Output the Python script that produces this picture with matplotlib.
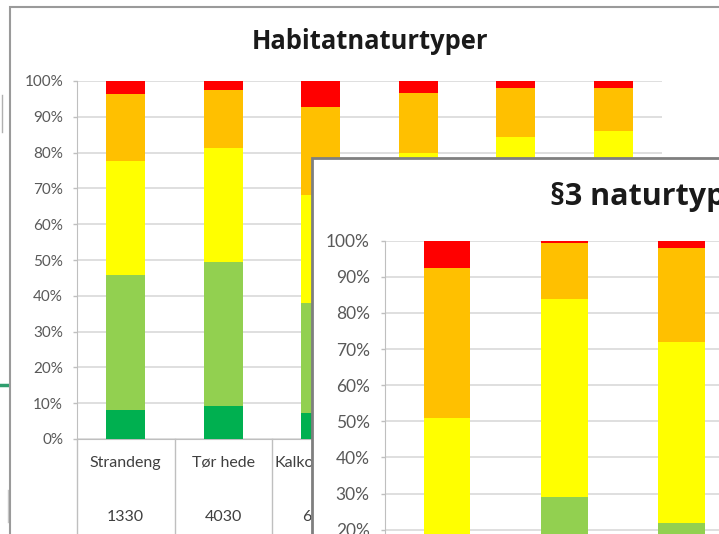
import numpy as np
import matplotlib
matplotlib.use('Agg')
import matplotlib.pyplot as plt
from matplotlib.patches import Rectangle
from matplotlib.lines import Line2D

plt.rcParams['font.family'] = ['Lato', 'DejaVu Sans']

# farver (Excel standard)
C_DKGREEN = '#00B050'
C_LTGREEN = '#92D050'
C_YELLOW = '#FFFF00'
C_ORANGE = '#FFC000'
C_RED = '#FF0000'
SEG_COLORS = [C_DKGREEN, C_LTGREEN, C_YELLOW, C_ORANGE, C_RED]

# Habitatnaturtyper (bagerste diagram), andele i %
hab_names = ['Strandeng', 'Tør hede', 'Kalkoverdrev', 'Surt overdrev', 'Hængesæk', 'Rigkær']
hab_codes = ['1330', '4030', '6210', '6230', '7140', '7230']
hab_dkgreen = [8.1, 9.3, 7.3, 8.0, 10.0, 8.0]
hab_ltgreen = [37.7, 40.2, 30.7, 37.0, 40.0, 42.0]
hab_yellow = [31.8, 31.9, 30.2, 35.0, 34.3, 36.0]
hab_orange = [18.8, 16.1, 24.6, 16.7, 13.7, 12.0]
hab_red = [3.6, 2.5, 7.2, 3.3, 2.0, 2.0]

# §3 naturtyper (forreste diagram), andele i %
p3_names = ['Strandeng', 'Hede', 'Overdrev', 'Mose']
p3_dkgreen = [0.0, 7.0, 6.8, 6.0]
p3_ltgreen = [10.0, 22.0, 15.0, 20.0]
p3_yellow = [41.0, 54.8, 50.1, 45.0]
p3_orange = [41.4, 15.7, 26.1, 25.0]
p3_red = [7.6, 0.5, 2.0, 4.0]

W, H = 719, 534
fig = plt.figure(figsize=(W / 100, H / 100), dpi=100)
fig.patch.set_facecolor('white')


def fx(px):
    return px / W


def fy(py):
    return 1 - py / H


def stacked(ax, segs, width):
    x = np.arange(len(segs[0]))
    bottom = np.zeros(len(x))
    for vals, col in zip(segs, SEG_COLORS):
        ax.bar(x, vals, width, bottom=bottom, color=col, lw=0, zorder=3)
        bottom += np.array(vals)
    return x


def style_axes(ax, fs, pad):
    ax.set_ylim(0, 100)
    ax.set_yticks(range(0, 101, 10))
    ax.set_yticklabels(['%d%%' % v for v in range(0, 101, 10)])
    ax.tick_params(axis='y', length=3, width=1, color='#bfbfbf', pad=pad,
                   labelsize=fs, labelcolor='#595959')
    ax.tick_params(axis='x', length=0, labelbottom=False)
    ax.grid(axis='y', color='#d9d9d9', lw=1.2, zorder=0)
    for s in ('top', 'right'):
        ax.spines[s].set_visible(False)
    ax.spines['left'].set_color('#bfbfbf')
    ax.spines['bottom'].set_color('#bfbfbf')
    ax.set_facecolor('none')


# baggrundspynt fra slide
fig.add_artist(Line2D([0, fx(10)], [fy(385), fy(385)], color='#2e9e6e', lw=2.5, zorder=0.05))
fig.add_artist(Line2D([fx(2), fx(2)], [fy(95), fy(132)], color='#b0b0b0', lw=1, zorder=0.05))
fig.add_artist(Line2D([fx(8), fx(8)], [fy(490), fy(522)], color='#c8c8c8', lw=1, zorder=0.05))

# bageste ramme
fig.add_artist(Rectangle((fx(10), fy(560)), fx(740), fy(7) - fy(560),
                         facecolor='white', edgecolor='#9a9a9a', lw=1.5, zorder=0.1))

# --- Habitatnaturtyper ---
ax1 = fig.add_axes([fx(77), fy(439), fx(662 - 77), fy(81) - fy(439)])
ax1.set_zorder(0.2)
x1 = stacked(ax1, [hab_dkgreen, hab_ltgreen, hab_yellow, hab_orange, hab_red], 0.4)
ax1.set_xlim(-0.5, len(x1) - 0.5)
style_axes(ax1, 11, 7)
for i, (n, c) in enumerate(zip(hab_names, hab_codes)):
    ax1.text(i, -6.7, n, ha='center', va='center', fontsize=11.5, color='#404040', clip_on=False)
    ax1.text(i, -21.8, c, ha='center', va='center', fontsize=11.5, color='#404040', clip_on=False)
for i in range(len(x1) + 1):
    ax1.plot([i - 0.5, i - 0.5], [0, -27], color='#bfbfbf', lw=1, clip_on=False)
ax1.text(0.5, 1.11, 'Habitatnaturtyper', transform=ax1.transAxes, ha='center', va='center',
         fontsize=18.4, fontweight='bold', color='#1a1a1a', family=['Open Sans', 'DejaVu Sans'])

# forreste ramme
fig.add_artist(Rectangle((fx(312), fy(700)), fx(600), fy(158) - fy(700),
                         facecolor='white', edgecolor='#7f7f7f', lw=2, zorder=0.3))

# --- §3 naturtyper ---
ax2 = fig.add_axes([fx(385), fy(602), fx(118 * len(p3_names)), fy(240.7) - fy(602)])
ax2.set_zorder(0.4)
x2 = stacked(ax2, [p3_dkgreen, p3_ltgreen, p3_yellow, p3_orange, p3_red], 0.4)
ax2.set_xlim(-0.53, len(x2) - 0.5)
style_axes(ax2, 12.5, 8)
fig.text(fx(550), fy(197), '§3 naturtyper', ha='left', va='center',
         fontsize=22, fontweight='bold', color='#1a1a1a', zorder=0.5,
         family=['Open Sans', 'DejaVu Sans'])

fig.savefig('out.png', dpi=100, facecolor='white')
